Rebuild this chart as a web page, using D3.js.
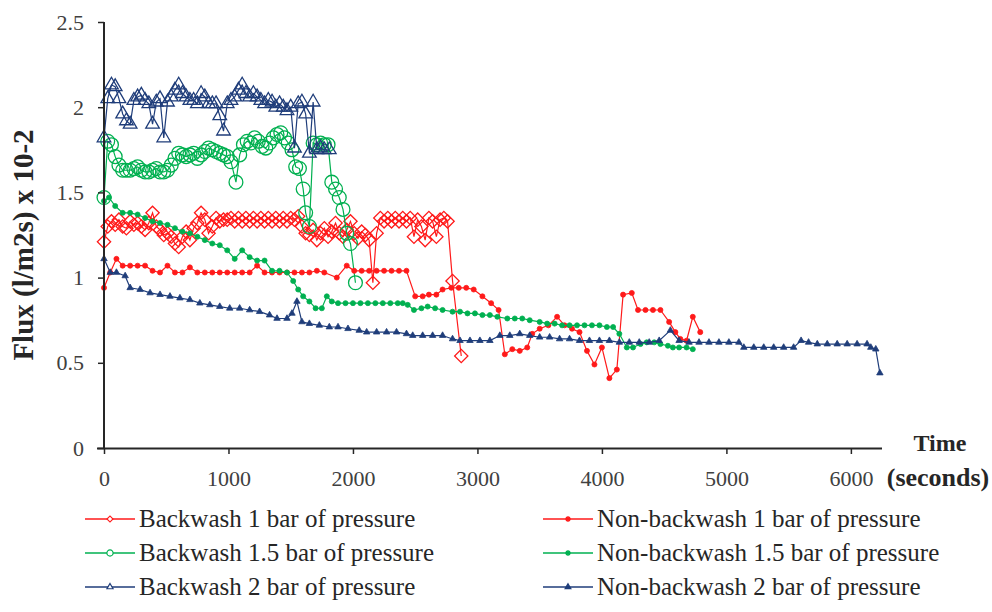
<!DOCTYPE html>
<html>
<head>
<meta charset="utf-8">
<script src="https://cdn.jsdelivr.net/npm/d3@7"></script>
<style>
  body { margin: 0; background: #fff; }
  text { font-family: "Liberation Serif", "Times New Roman", serif; }
</style>
</head>
<body>
<script>
const W = 992, H = 612;

// ---- data: [seconds, flux] ----
const backwash1 = [[0,1.21],[30,1.30],[60,1.33],[90,1.31],[120,1.34],[150,1.30],[180,1.29],[210,1.33],[240,1.31],[270,1.32],[300,1.30],[330,1.28],[360,1.32],[390,1.38],[420,1.30],[450,1.28],[480,1.25],[510,1.26],[540,1.24],[570,1.20],[600,1.18],[630,1.24],[660,1.27],[690,1.22],[720,1.29],[750,1.32],[780,1.38],[810,1.34],[840,1.26],[870,1.30],[900,1.35],[930,1.33],[960,1.34],[990,1.34],[1020,1.35],[1050,1.33],[1080,1.35],[1110,1.33],[1140,1.35],[1170,1.33],[1200,1.35],[1230,1.33],[1260,1.35],[1290,1.33],[1320,1.35],[1350,1.33],[1380,1.35],[1410,1.33],[1440,1.35],[1470,1.33],[1500,1.35],[1530,1.34],[1560,1.36],[1590,1.30],[1620,1.26],[1650,1.25],[1680,1.28],[1710,1.22],[1740,1.26],[1770,1.29],[1800,1.24],[1830,1.27],[1860,1.32],[1890,1.26],[1920,1.24],[1950,1.28],[1980,1.33],[2010,1.26],[2040,1.23],[2070,1.27],[2100,1.25],[2130,1.22],[2160,0.97],[2190,1.26],[2220,1.35],[2250,1.33],[2280,1.35],[2310,1.33],[2340,1.35],[2370,1.33],[2400,1.35],[2430,1.33],[2460,1.35],[2490,1.24],[2520,1.34],[2550,1.30],[2580,1.22],[2610,1.35],[2640,1.33],[2670,1.24],[2700,1.34],[2730,1.35],[2760,1.33],[2800,0.98],[2870,0.54]];

const backwash15 = [[0,1.47],[30,1.80],[60,1.78],[90,1.71],[120,1.66],[150,1.63],[180,1.63],[210,1.63],[240,1.64],[270,1.65],[300,1.63],[330,1.62],[360,1.62],[390,1.63],[420,1.64],[450,1.62],[480,1.62],[510,1.63],[540,1.66],[570,1.70],[600,1.73],[630,1.72],[660,1.71],[690,1.72],[720,1.73],[750,1.70],[780,1.72],[810,1.74],[840,1.76],[870,1.75],[900,1.74],[930,1.73],[960,1.72],[990,1.71],[1020,1.68],[1060,1.56],[1090,1.72],[1120,1.78],[1150,1.80],[1180,1.79],[1210,1.82],[1240,1.80],[1270,1.77],[1300,1.76],[1330,1.79],[1360,1.82],[1390,1.84],[1420,1.85],[1450,1.82],[1480,1.79],[1510,1.75],[1540,1.65],[1570,1.64],[1600,1.52],[1620,1.38],[1650,1.30],[1680,1.79],[1710,1.78],[1740,1.79],[1770,1.78],[1800,1.78],[1830,1.56],[1860,1.52],[1890,1.47],[1920,1.40],[1950,1.26],[1980,1.20],[2020,0.97]];

const backwash2 = [[0,1.82],[30,2.05],[60,2.13],[90,2.12],[120,2.05],[150,1.96],[180,1.92],[210,1.90],[240,2.04],[270,2.06],[300,2.07],[330,2.04],[360,2.02],[390,1.90],[420,2.03],[450,2.05],[480,1.82],[510,2.03],[540,2.06],[570,2.10],[600,2.13],[630,2.08],[660,2.06],[690,2.04],[720,2.04],[750,2.02],[780,2.08],[810,2.06],[840,2.02],[870,2.02],[900,2.02],[930,1.95],[960,1.86],[990,2.02],[1020,2.04],[1050,2.06],[1080,2.10],[1110,2.13],[1140,2.08],[1170,2.06],[1200,2.08],[1230,2.06],[1260,2.04],[1290,2.02],[1320,2.04],[1350,2.03],[1380,2.00],[1410,2.02],[1440,2.00],[1470,1.98],[1500,2.00],[1530,1.76],[1560,2.02],[1590,2.03],[1620,1.96],[1650,1.73],[1680,2.03],[1710,1.75],[1740,1.76],[1770,1.75],[1810,1.75]];

const nonBackwash1 = [[0,0.94],[50,1.03],[100,1.11],[150,1.07],[210,1.07],[270,1.07],[330,1.07],[390,1.04],[450,1.03],[510,1.07],[570,1.03],[630,1.03],[690,1.06],[750,1.03],[810,1.03],[870,1.03],[930,1.03],[990,1.03],[1050,1.03],[1110,1.03],[1170,1.03],[1230,1.07],[1290,1.03],[1350,1.03],[1410,1.03],[1470,1.03],[1530,1.03],[1590,1.03],[1650,1.03],[1710,1.04],[1770,1.03],[1870,1.00],[1950,1.07],[2010,1.04],[2070,1.04],[2130,1.04],[2190,1.04],[2250,1.04],[2310,1.04],[2370,1.04],[2430,1.04],[2500,0.89],[2560,0.89],[2610,0.90],[2670,0.90],[2720,0.93],[2790,0.94],[2850,0.94],[2910,0.94],[2970,0.93],[3040,0.89],[3110,0.85],[3170,0.81],[3220,0.55],[3280,0.58],[3340,0.57],[3400,0.59],[3440,0.67],[3500,0.70],[3570,0.72],[3640,0.77],[3700,0.72],[3760,0.70],[3820,0.68],[3880,0.57],[3940,0.49],[4000,0.59],[4060,0.41],[4120,0.46],[4170,0.90],[4240,0.91],[4290,0.81],[4350,0.81],[4410,0.81],[4470,0.81],[4540,0.74],[4590,0.68],[4630,0.64],[4680,0.63],[4730,0.77],[4790,0.68]];

const nonBackwash15 = [[0,1.45],[40,1.47],[90,1.42],[150,1.38],[210,1.38],[270,1.37],[330,1.35],[390,1.33],[450,1.32],[510,1.31],[570,1.29],[630,1.27],[690,1.26],[750,1.24],[810,1.22],[870,1.20],[930,1.19],[990,1.16],[1050,1.11],[1110,1.16],[1170,1.12],[1230,1.10],[1290,1.10],[1350,1.04],[1410,1.04],[1470,1.03],[1520,0.98],[1560,0.93],[1600,0.89],[1650,0.86],[1700,0.82],[1750,0.82],[1790,0.89],[1830,0.86],[1880,0.85],[1940,0.85],[2000,0.85],[2060,0.85],[2120,0.85],[2180,0.85],[2240,0.85],[2300,0.85],[2360,0.85],[2400,0.85],[2440,0.84],[2490,0.81],[2550,0.82],[2600,0.83],[2660,0.82],[2720,0.81],[2800,0.80],[2860,0.80],[2920,0.79],[2980,0.79],[3040,0.78],[3100,0.78],[3160,0.77],[3240,0.76],[3300,0.76],[3360,0.76],[3420,0.75],[3500,0.74],[3560,0.73],[3620,0.73],[3680,0.72],[3740,0.72],[3800,0.72],[3860,0.72],[3920,0.72],[3980,0.72],[4040,0.71],[4090,0.71],[4140,0.67],[4200,0.59],[4250,0.59],[4310,0.61],[4360,0.62],[4420,0.62],[4470,0.61],[4530,0.60],[4570,0.59],[4620,0.59],[4680,0.59],[4730,0.58]];

const nonBackwash2 = [[0,1.11],[50,1.03],[100,1.03],[170,1.01],[210,0.94],[290,0.93],[370,0.91],[450,0.90],[530,0.89],[610,0.88],[690,0.87],[770,0.85],[850,0.84],[930,0.83],[1010,0.82],[1090,0.82],[1170,0.81],[1250,0.80],[1330,0.78],[1390,0.76],[1470,0.76],[1510,0.79],[1550,0.86],[1590,0.74],[1650,0.73],[1730,0.72],[1810,0.71],[1880,0.71],[1960,0.70],[2050,0.69],[2110,0.68],[2190,0.68],[2270,0.68],[2350,0.68],[2430,0.67],[2480,0.66],[2560,0.66],[2640,0.66],[2720,0.66],[2800,0.64],[2860,0.63],[2940,0.63],[3020,0.63],[3100,0.63],[3180,0.66],[3260,0.66],[3340,0.67],[3420,0.66],[3500,0.65],[3580,0.65],[3660,0.64],[3740,0.64],[3820,0.63],[3900,0.63],[3980,0.63],[4060,0.63],[4140,0.62],[4220,0.62],[4300,0.62],[4380,0.62],[4460,0.63],[4550,0.69],[4620,0.63],[4700,0.62],[4780,0.62],[4860,0.62],[4940,0.62],[5020,0.62],[5100,0.62],[5140,0.59],[5220,0.59],[5300,0.59],[5380,0.59],[5460,0.59],[5540,0.59],[5600,0.63],[5660,0.62],[5730,0.61],[5810,0.61],[5890,0.61],[5970,0.61],[6050,0.61],[6130,0.61],[6160,0.59],[6200,0.58],[6233,0.44]];

const xTicks = [0, 1000, 2000, 3000, 4000, 5000, 6000];
const yTicks = [0, 0.5, 1, 1.5, 2, 2.5];

const red = "#ff1a1a", green = "#00b050", blue = "#1f3d7a";

const series = [
  {name: "Backwash 1 bar of pressure", data: backwash1, color: red, shape: "diamond", col: 0, row: 0},
  {name: "Backwash 1.5 bar of pressure", data: backwash15, color: green, shape: "circle", col: 0, row: 1},
  {name: "Backwash 2 bar of pressure", data: backwash2, color: blue, shape: "triangle", col: 0, row: 2},
  {name: "Non-backwash 1 bar of pressure", data: nonBackwash1, color: red, shape: "dot", col: 1, row: 0},
  {name: "Non-backwash 1.5 bar of pressure", data: nonBackwash15, color: green, shape: "dot", col: 1, row: 1},
  {name: "Non-backwash 2 bar of pressure", data: nonBackwash2, color: blue, shape: "tri", col: 1, row: 2}
];

const x = d3.scaleLinear().domain([0, 6250]).range([104, 882]);
const y = d3.scaleLinear().domain([0, 2.5]).range([448, 22]);

const svg = d3.select("body").append("svg")
    .attr("width", W)
    .attr("height", H);

// marker path for each shape, big for plot, small for legend
function markerPath(shape, small) {
  let k = small ? 0.45 : 1;
  if (shape == "diamond") return d3.symbol(d3.symbolSquare, 88 * k * k)();
  if (shape == "circle") return d3.symbol(d3.symbolCircle, 150 * k * k)();
  if (shape == "triangle") return d3.symbol(d3.symbolTriangle, 80 * k * k)();
  if (shape == "dot") return d3.symbol(d3.symbolCircle, small ? 14 : 20)();
  return d3.symbol(d3.symbolTriangle, small ? 14 : 18)();
}
function markerRot(shape) { return shape == "diamond" ? " rotate(45)" : ""; }
function isOpen(shape) { return shape == "diamond" || shape == "circle" || shape == "triangle"; }

const line = d3.line().x(d => x(d[0])).y(d => y(d[1]));

// ---- series ----
for (let s of series) {
  let g = svg.append("g").attr("class", "series");
  g.append("path")
      .datum(s.data)
      .attr("d", line)
      .attr("fill", "none")
      .attr("stroke", s.color)
      .attr("stroke-width", 1.2);
  g.selectAll("path.mark")
      .data(s.data)
    .join("path")
      .attr("class", "mark")
      .attr("d", markerPath(s.shape, false))
      .attr("transform", d => "translate(" + x(d[0]) + "," + y(d[1]) + ")" + markerRot(s.shape))
      .attr("fill", isOpen(s.shape) ? "none" : s.color)
      .attr("stroke", s.color)
      .attr("stroke-width", isOpen(s.shape) ? 1.3 : 0.8);
}

// ---- axes ----
const yAxis = svg.append("g")
    .attr("transform", "translate(104,0)")
    .call(d3.axisLeft(y).tickValues(yTicks).tickSize(6).tickPadding(14).tickFormat(d3.format("")));
const xAxis = svg.append("g")
    .attr("transform", "translate(0,448)")
    .call(d3.axisBottom(x).tickValues(xTicks).tickSize(6).tickPadding(16).tickFormat(d3.format("")));

for (let a of [yAxis, xAxis]) {
  a.select(".domain").attr("stroke", "#262626").attr("stroke-width", 2);
  a.selectAll(".tick line").attr("stroke", "#262626").attr("stroke-width", 1.5);
  a.selectAll(".tick text")
      .attr("fill", "#404040")
      .style("font-family", "'Liberation Serif', serif")
      .style("font-size", "22px");
}
// x domain starts at the y=0 tick, no end caps
xAxis.select(".domain").attr("d", "M97,0.5H882");
yAxis.select(".domain").attr("d", "M0,22V448");

svg.append("text")
    .attr("transform", "translate(33,245) rotate(-90)")
    .attr("text-anchor", "middle")
    .attr("font-weight", "bold")
    .attr("font-size", 29)
    .attr("fill", "#262626")
    .text("Flux (l/m2s) x 10-2");

svg.append("text")
    .attr("x", 940).attr("y", 451)
    .attr("text-anchor", "middle")
    .attr("font-weight", "bold")
    .attr("font-size", 24)
    .attr("fill", "#262626")
    .text("Time");
svg.append("text")
    .attr("x", 938).attr("y", 486)
    .attr("text-anchor", "middle")
    .attr("font-weight", "bold")
    .attr("font-size", 26)
    .attr("fill", "#262626")
    .text("(seconds)");

// ---- legend ----
const legendX = [85, 543], legendY = [519, 553, 587];
const legend = svg.append("g").attr("class", "legend");
for (let s of series) {
  let lx = legendX[s.col], ly = legendY[s.row];
  let item = legend.append("g").attr("transform", "translate(" + lx + "," + ly + ")");
  item.append("line")
      .attr("x1", 0).attr("x2", 50)
      .attr("stroke", s.color)
      .attr("stroke-width", 1.5);
  item.append("path")
      .attr("d", markerPath(s.shape, true))
      .attr("transform", "translate(25,0)" + markerRot(s.shape))
      .attr("fill", isOpen(s.shape) ? "#fff" : s.color)
      .attr("stroke", s.color)
      .attr("stroke-width", 1.2);
  item.append("text")
      .attr("x", 54).attr("y", 8)
      .attr("font-size", 25)
      .attr("fill", "#262626")
      .text(s.name);
}
</script>
</body>
</html>
